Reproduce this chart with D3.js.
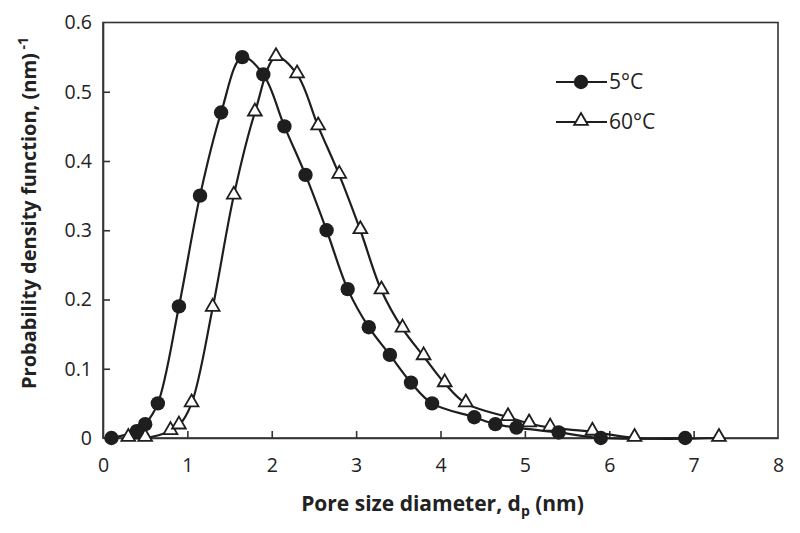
<!DOCTYPE html>
<html>
<head>
<meta charset="utf-8">
<script src="https://cdn.jsdelivr.net/npm/d3@7"></script>
<style>
  body { margin: 0; background: #fff; }
  svg text { font-family: "Open Sans", "DejaVu Sans", sans-serif; fill: #222; }
</style>
</head>
<body>
<svg id="chart" width="800" height="533"></svg>
<script>
// 5°C series (filled circles)
const coldX = [0.1, 0.4, 0.5, 0.65, 0.9, 1.15, 1.4, 1.65, 1.9, 2.15, 2.4, 2.65, 2.9, 3.15, 3.4, 3.65, 3.9, 4.4, 4.65, 4.9, 5.4, 5.9, 6.9]
const coldY = [0, 0.01, 0.02, 0.05, 0.19, 0.35, 0.47, 0.55, 0.525, 0.45, 0.38, 0.30, 0.215, 0.16, 0.12, 0.08, 0.05, 0.03, 0.02, 0.015, 0.008, 0, 0]
// 60°C series (open triangles)
const warmX = [0.3, 0.5, 0.8, 0.9, 1.05, 1.3, 1.55, 1.8, 2.05, 2.3, 2.55, 2.8, 3.05, 3.3, 3.55, 3.8, 4.05, 4.3, 4.8, 5.05, 5.3, 5.8, 6.3, 7.3]
const warmY = [0, 0, 0.01, 0.018, 0.05, 0.188, 0.35, 0.47, 0.55, 0.525, 0.45, 0.38, 0.30, 0.213, 0.158, 0.118, 0.079, 0.05, 0.03, 0.021, 0.015, 0.009, 0, 0]

const xTicks = [0, 1, 2, 3, 4, 5, 6, 7, 8]
const yTicks = [0, 0.1, 0.2, 0.3, 0.4, 0.5, 0.6]
const seriesNames = ["5°C", "60°C"]

const margin = {left: 103, top: 22.5, right: 22, bottom: 95}
const svg = d3.select("#chart")
const W = +svg.attr("width"), H = +svg.attr("height")
const plotW = W - margin.left - margin.right
const plotH = H - margin.top - margin.bottom

const x = d3.scaleLinear().domain([0, 8]).range([margin.left, margin.left + plotW])
const y = d3.scaleLinear().domain([0, 0.6]).range([margin.top + plotH, margin.top])

const ink = "#1e1e1e"

// frame
svg.append("rect")
    .attr("x", x(0)).attr("y", y(0.6))
    .attr("width", x(8) - x(0)).attr("height", y(0) - y(0.6))
    .attr("fill", "none").attr("stroke", "#333").attr("stroke-width", 1.6)

// axes with inward ticks
const xAxis = svg.append("g")
    .attr("transform", `translate(0,${y(0)})`)
    .call(d3.axisBottom(x).tickValues(xTicks).tickSizeInner(-7).tickSizeOuter(0).tickPadding(20).tickFormat(d3.format("d")))
const yAxis = svg.append("g")
    .attr("transform", `translate(${x(0)},0)`)
    .call(d3.axisLeft(y).tickValues(yTicks).tickSizeInner(-7).tickSizeOuter(0).tickPadding(11).tickFormat(d => d === 0 ? "0" : d3.format(".1f")(d)))
;[xAxis, yAxis].forEach(g => {
    g.select(".domain").attr("stroke", "#333").attr("stroke-width", 1.6)
    g.selectAll(".tick line").attr("stroke", "#333").attr("stroke-width", 1.6)
    g.selectAll(".tick text").attr("font-size", 19.5).style("fill", "#222")
})
xAxis.selectAll(".tick").filter(d => d === 0 || d === 8).select("line").remove()
yAxis.selectAll(".tick").filter(d => d === 0 || d === 0.6).select("line").remove()

// lines
const line = d3.line().x(d => x(d[0])).y(d => y(d[1])).curve(d3.curveCatmullRom.alpha(0.5))
const cold = coldX.map((v, i) => [v, coldY[i]])
const warm = warmX.map((v, i) => [v, warmY[i]])

svg.append("path").datum(warm).attr("d", line)
    .attr("fill", "none").attr("stroke", ink).attr("stroke-width", 2.2)
svg.append("path").datum(cold).attr("d", line)
    .attr("fill", "none").attr("stroke", ink).attr("stroke-width", 2.2)

const tri = d3.symbol().type(d3.symbolTriangle).size(82)

svg.append("g").selectAll("path").data(warm).join("path")
    .attr("d", tri)
    .attr("transform", d => `translate(${x(d[0])},${y(d[1]) - 1})`)
    .attr("fill", "#fff").attr("stroke", ink).attr("stroke-width", 1.8)

svg.append("g").selectAll("circle").data(cold).join("circle")
    .attr("cx", d => x(d[0])).attr("cy", d => y(d[1])).attr("r", 7.2)
    .attr("fill", ink)

// legend
const leg = svg.append("g")
const rows = [{name: seriesNames[0], y: 82}, {name: seriesNames[1], y: 122}]
rows.forEach((r, i) => {
    leg.append("line").attr("x1", 556).attr("x2", 607).attr("y1", r.y).attr("y2", r.y)
        .attr("stroke", ink).attr("stroke-width", 2.2)
    if (i === 0) {
        leg.append("circle").attr("cx", 581).attr("cy", r.y).attr("r", 7.2).attr("fill", ink)
    } else {
        leg.append("path").attr("d", tri).attr("transform", `translate(581,${r.y - 1})`)
            .attr("fill", "#fff").attr("stroke", ink).attr("stroke-width", 1.8)
    }
    leg.append("text").attr("x", 609).attr("y", r.y).attr("dy", "0.35em")
        .attr("font-size", 21).text(r.name)
})

// axis titles
const xt = svg.append("text")
    .attr("x", (x(0) + x(8)) / 2 + 2).attr("y", 511)
    .attr("text-anchor", "middle").attr("font-size", 21).attr("font-weight", "bold")
xt.append("tspan").text("Pore size diameter, d")
xt.append("tspan").attr("font-size", 14).attr("dy", 5).text("p")
xt.append("tspan").attr("dy", -5).text(" (nm)")

const yt = svg.append("text")
    .attr("transform", `translate(36,213) rotate(-90)`)
    .attr("text-anchor", "middle").attr("font-size", 20).attr("font-weight", "bold")
yt.append("tspan").text("Probability density function, (nm)")
yt.append("tspan").attr("font-size", 14).attr("dy", -8).text(" -1")
</script>
</body>
</html>
